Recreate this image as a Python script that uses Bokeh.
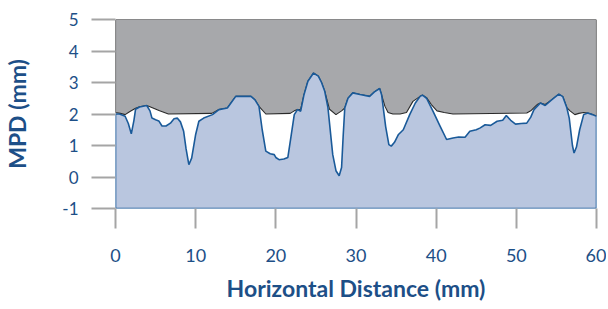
from bokeh.plotting import figure
from bokeh.models import Range1d, FixedTicker
from bokeh.embed import file_html
from bokeh.resources import INLINE

# Surface profile (blue)
prof_x = [0, 0.5, 1.2, 1.6, 1.97, 2.3, 2.5, 3.0, 3.9, 4.3, 4.55, 5.0, 5.4, 5.8, 6.3, 6.85, 7.3, 7.7,
          8.1, 8.5, 8.8, 9.15, 9.5, 10.0, 10.4, 11.0, 12.1, 12.9, 13.95, 14.4, 15.0, 16.9, 17.4, 17.9,
          18.3, 18.75, 19.3, 19.8, 20.0, 20.4, 21.0, 21.5, 21.9, 22.3, 22.7, 23.1, 23.5, 24.0, 24.7,
          25.3, 25.7, 26.1, 26.5, 26.9, 27.1, 27.5, 27.9, 28.2, 28.4, 28.6, 29.0, 29.6, 30.5, 31.7,
          32.3, 32.95, 33.2, 33.7, 34.1, 34.4, 34.8, 35.3, 35.9, 36.7, 37.4, 38.0, 38.3, 38.8, 39.6,
          40.5, 41.3, 42.1, 42.8, 43.6, 44.2, 45.0, 45.5, 46.1, 46.8, 47.6, 48.3, 48.75, 49.3, 49.9,
          50.6, 51.3, 51.8, 52.2, 53.0, 53.6, 54.4, 55.3, 55.8, 56.3, 56.6, 57.0, 57.2, 57.5, 57.9,
          58.4, 58.9, 59.5, 60.0]
prof_y = [2.0, 2.0, 1.93, 1.7, 1.37, 1.8, 2.15, 2.22, 2.27, 2.1, 1.87, 1.82, 1.78, 1.62, 1.62, 1.71, 1.85, 1.87,
          1.75, 1.45, 0.9, 0.39, 0.6, 1.35, 1.77, 1.87, 1.98, 2.14, 2.19, 2.35, 2.56, 2.56, 2.45, 2.24,
          1.5, 0.82, 0.74, 0.71, 0.62, 0.55, 0.57, 0.62, 1.3, 1.98, 2.14, 2.09, 2.6, 3.04, 3.3,
          3.2, 3.0, 2.72, 2.2, 1.2, 0.71, 0.2, 0.04, 0.3, 1.3, 2.19, 2.5, 2.67, 2.62, 2.56,
          2.7, 2.81, 2.6, 1.6, 1.03, 0.98, 1.1, 1.35, 1.5, 1.98, 2.35, 2.56, 2.6, 2.5, 2.09,
          1.61, 1.19, 1.24, 1.27, 1.26, 1.45, 1.5, 1.56, 1.66, 1.64, 1.77, 1.8, 1.95, 1.8, 1.68,
          1.7, 1.71, 1.9, 2.14, 2.35, 2.27, 2.45, 2.63, 2.55, 2.2, 1.87, 1.0, 0.76, 0.95, 1.5,
          1.98, 2.03, 1.98, 1.93]

# Upper envelope (grey)
env_x = [0, 0.6, 1.2, 1.8, 2.5, 3.0, 3.9, 4.6, 5.5, 6.6, 12.0, 12.9, 13.95, 14.4, 15.0, 16.9, 17.4, 17.9,
         18.75, 21.8, 22.3, 22.7, 23.1, 23.5, 24.0, 24.7, 25.3, 25.7, 26.1, 26.7, 27.5, 28.2, 28.6, 29.0,
         29.6, 30.5, 31.7, 32.3, 32.95, 33.2, 33.6, 34.0, 34.6, 35.5, 36.3, 37.1, 38.0, 38.3, 38.8,
         39.4, 40.1, 41.0, 42.1, 51.3, 51.8, 52.2, 52.6, 53.0, 53.6, 54.4, 55.3, 55.8, 56.3, 56.7,
         57.3, 57.8, 58.4, 58.9, 59.5, 60.0]
env_y = [2.05, 2.02, 1.98, 2.08, 2.18, 2.23, 2.27, 2.2, 2.1, 2.0, 2.02, 2.14, 2.19, 2.35, 2.56, 2.56, 2.45, 2.24,
         2.0, 2.02, 2.1, 2.14, 2.15, 2.6, 3.04, 3.3, 3.2, 3.0, 2.72, 2.15, 1.98, 2.1, 2.19, 2.5,
         2.67, 2.62, 2.56, 2.7, 2.81, 2.6, 2.25, 2.05, 2.0, 2.0, 2.05, 2.4, 2.56, 2.6, 2.52,
         2.3, 2.1, 2.05, 2.0, 2.03, 2.1, 2.2, 2.3, 2.35, 2.3, 2.45, 2.63, 2.55, 2.2, 2.1,
         1.98, 2.02, 2.05, 2.03, 1.98, 1.93]

x_ticks = [0, 10, 20, 30, 40, 50, 60]
y_ticks = [-1, 0, 1, 2, 3, 4, 5]
y_tick_labels = {-1: "-1"}
x_min, x_max, y_min, y_max = 0, 60, -1, 5

TXT = "#1d4f87"
FONT = "Lato"

p = figure(width=606, height=308, output_backend="svg", toolbar_location=None,
           x_range=Range1d(x_min, x_max), y_range=Range1d(y_min, y_max),
           min_border_left=115, min_border_right=10, min_border_top=19, min_border_bottom=100)
p.outline_line_color = None
p.grid.visible = False
p.background_fill_color = "white"
p.border_fill_color = "white"

gx = [x_min] + env_x + [x_max, x_max]
gy = [y_max] + env_y + [y_max, y_max]
p.patch(gx, gy, fill_color="#a7a8ab", line_color="#2a2a2a", line_width=1.1)

bx = [x_min] + prof_x + [x_max, x_min]
by = [y_min] + prof_y + [y_min, y_min]
p.patch(bx, by, fill_color="#b9c6df", line_color="#1a5a99", line_width=1.6)

for ax in (p.xaxis[0], p.yaxis[0]):
    ax.axis_line_color = None
    ax.major_tick_line_color = "#a5a5a5"
    ax.major_tick_line_width = 2
    ax.minor_tick_line_color = None
    ax.major_tick_in = 0
    ax.major_label_text_color = TXT
    ax.major_label_text_font = FONT
    ax.axis_label_text_color = TXT
    ax.axis_label_text_font = FONT
    ax.axis_label_text_font_style = "bold"
    ax.axis_label_text_font_size = "23px"

p.xaxis.ticker = FixedTicker(ticks=x_ticks)
p.yaxis.ticker = FixedTicker(ticks=y_ticks)
p.yaxis.major_label_overrides = y_tick_labels
p.xaxis.major_tick_out = 20
p.yaxis.major_tick_out = 24
p.xaxis.major_label_text_font_size = "18px"
p.yaxis.major_label_text_font_size = "17px"
p.xaxis.major_label_standoff = 20
p.yaxis.major_label_standoff = 13
p.xaxis.axis_label = "Horizontal Distance (mm)"
p.yaxis.axis_label = "MPD (mm)"
p.xaxis.axis_label_standoff = 9
p.yaxis.axis_label_standoff = 28

open("out.html", "w").write(file_html(p, INLINE))
